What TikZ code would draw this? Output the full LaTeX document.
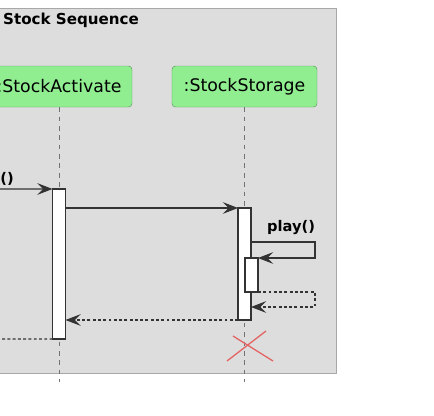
\documentclass[tikz,border=0pt]{standalone}
\usepackage{fontspec}
\setmainfont{DejaVu Sans}
\usetikzlibrary{arrows.meta}

\definecolor{boxgray}{HTML}{DDDDDD}
\definecolor{framegray}{HTML}{A8A8A8}
\definecolor{partgreen}{HTML}{90EE90}
\definecolor{partborder}{HTML}{5E9A5E}
\definecolor{linegray}{HTML}{333333}
\definecolor{crossred}{HTML}{E46464}

\begin{document}
\begin{tikzpicture}[x=0.03cm, y=-0.03cm,
    participant/.style={draw=partborder, fill=partgreen, rounded corners=3pt, minimum height=1.23cm, inner sep=0pt, font=\fontsize{14.8}{17}\selectfont},
    actbar/.style={draw=linegray, fill=white, minimum width=0.39cm, inner sep=0pt, outer sep=0pt, line width=0.9pt},
    lifeline/.style={draw=gray!90!black, dash pattern=on 4pt off 4pt, line width=0.6pt},
    msg/.style={draw=linegray, line width=0.9pt, -{Stealth[length=13pt, width=10pt, inset=5pt]}},
    ret/.style={msg, dash pattern=on 2.5pt off 2pt},
    msglabel/.style={font=\bfseries\fontsize{12.5}{15}\selectfont, inner sep=0pt},
    cross/.style={draw=crossred, line width=1.1pt}]

            \useasboundingbox (0,0) rectangle (434,416);

            % Draw the box round the sequence
            \draw[draw=framegray, fill=boxgray, line width=0.8pt] (-30,8) rectangle (336,373);
            \node[anchor=base west, font=\bfseries\fontsize{12.9}{15}\selectfont, inner sep=0pt] (title) at (3,24) {Stock Sequence};

            % Define participants
            \node[participant, minimum width=4.38cm] (activate) at (59,86.5) {:StockActivate};
            \node[participant, minimum width=4.35cm] (storage) at (244.5,86.5) {:StockStorage};

            % Draw lifelines
            \coordinate (activateEnd) at (59,382);
            \coordinate (storageEnd) at (244.5,382);
            \draw[lifeline] (activate) -- (activateEnd);
            \draw[lifeline] (storage) -- (storageEnd);

            % Draw activation bars
            \node[actbar, minimum height=4.5cm] (activateBar) at (59,264) {};
            \node[actbar, minimum height=3.36cm] (storageBar) at (244.5,264) {};
            \node[actbar, minimum height=1.02cm] (playBar) at (251.5,275) {};

            % Draw incoming call
            \coordinate (caller) at (-40,189);
            \draw[msg] (caller) -- (activateBar.north west);
            \node[msglabel, anchor=base east] (callLabel) at (14,183) {e()};

            % Draw call to storage
            \draw[msg] (activateBar.east |- storageBar.north) -- (storageBar.north west);

            % Draw self call play()
            \coordinate (loopTop) at (315,242);
            \coordinate (loopBot) at (315,307);
            \draw[msg] (storageBar.east |- loopTop) -- (loopTop) |- (playBar.north east);
            \node[msglabel, anchor=base west] (playLabel) at (267,231) {play()};
            \draw[ret] (playBar.south east) -| (loopBot) -- (storageBar.east |- loopBot);

            % Draw returns
            \draw[ret] (storageBar.south west) -- (activateBar.east |- storageBar.south);
            \coordinate (exitPt) at (-40,339);
            \draw[ret] (activateBar.south west) -- (exitPt);

            % Draw destroy mark
            \draw[cross] (227,361) -- (266,331);
            \draw[cross] (233,336) -- (273,361);
        \end{tikzpicture}
\end{document}
